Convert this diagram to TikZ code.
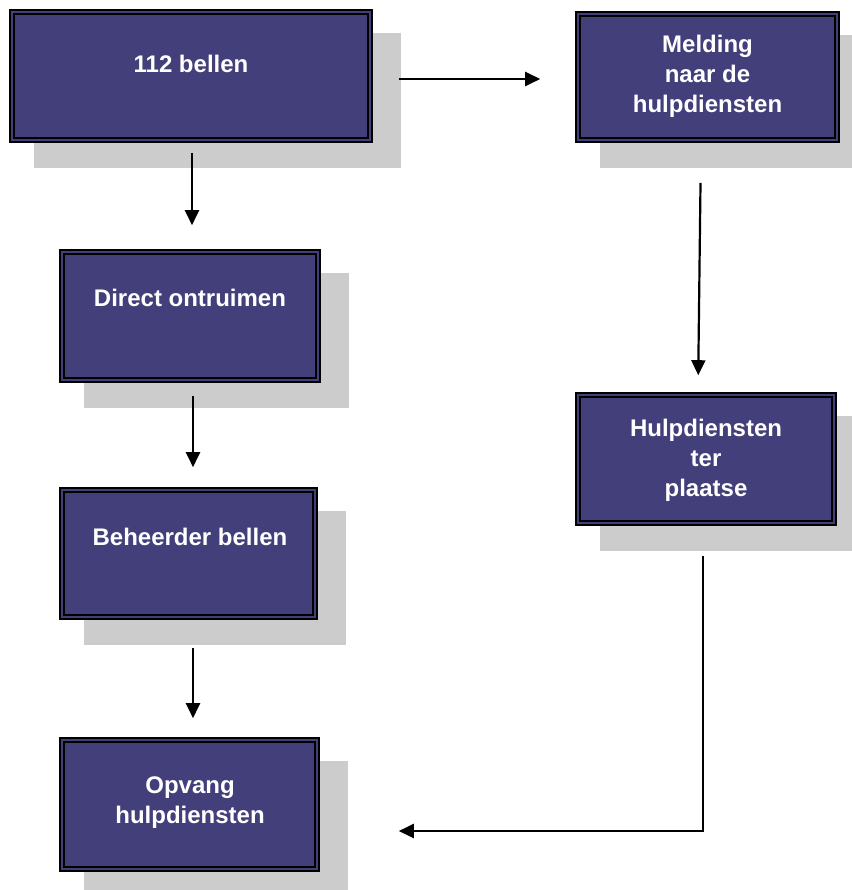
\documentclass[tikz,border=0pt]{standalone}
\usepackage{fontspec}
\setmainfont{Liberation Sans}
\usetikzlibrary{arrows.meta}
\definecolor{boxblue}{RGB}{67,63,122}
\definecolor{shadowgray}{RGB}{204,204,204}
\tikzset{
  flowbox/.style={draw=black, line width=1.6pt, double=boxblue, double distance=2.2pt,
    fill=boxblue, inner sep=0pt},
  boxshadow/.style={fill=shadowgray, draw=none},
  boxtext/.style={text=white, font=\bfseries\fontsize{24}{30}\selectfont, align=center, inner sep=0pt},
  arr/.style={draw=black, line width=2.2pt, -{Triangle[length=15pt,width=14pt]}},
}
\newcommand{\shadowof}[1]{%
  \fill[boxshadow] ([shift={(25pt,-25pt)}]#1.south west) rectangle ([shift={(28pt,-24pt)}]#1.north east);}
\begin{document}
\begin{tikzpicture}[x=1pt,y=-1pt]
\useasboundingbox (0,0) rectangle (851,890);
\coordinate (c1) at (191,76);
\coordinate (c2) at (707.5,77);
\coordinate (c3) at (190,316);
\coordinate (c4) at (188.5,553.5);
\coordinate (c5) at (189.5,804.5);
\coordinate (c6) at (706,459);
\path node[inner sep=0pt, minimum width=364pt, minimum height=134pt] (s1) at (c1) {}
      node[inner sep=0pt, minimum width=265pt, minimum height=132pt] (s2) at (c2) {}
      node[inner sep=0pt, minimum width=262pt, minimum height=134pt] (s3) at (c3) {}
      node[inner sep=0pt, minimum width=259pt, minimum height=133pt] (s4) at (c4) {}
      node[inner sep=0pt, minimum width=261pt, minimum height=135pt] (s5) at (c5) {}
      node[inner sep=0pt, minimum width=262pt, minimum height=134pt] (s6) at (c6) {};
\shadowof{s1}\shadowof{s2}\shadowof{s3}\shadowof{s4}\shadowof{s5}\shadowof{s6}
\node[flowbox, minimum width=358pt, minimum height=128pt] (b1) at (c1) {};
\node[flowbox, minimum width=259pt, minimum height=126pt] (b2) at (c2) {};
\node[flowbox, minimum width=256pt, minimum height=128pt] (b3) at (c3) {};
\node[flowbox, minimum width=253pt, minimum height=127pt] (b4) at (c4) {};
\node[flowbox, minimum width=255pt, minimum height=129pt] (b5) at (c5) {};
\node[flowbox, minimum width=256pt, minimum height=128pt] (b6) at (c6) {};
\node[boxtext] (t1) at (191,64) {112 bellen};
\node[boxtext] (t2) at (707.5,76) {Melding\\naar de\\hulpdiensten};
\node[boxtext] (t3) at (190,298) {Direct ontruimen};
\node[boxtext] (t4) at (190,537) {Beheerder bellen};
\node[boxtext] (t5) at (190,803) {Opvang\\hulpdiensten};
\node[boxtext] (t6) at (706,460) {Hulpdiensten\\ter\\plaatse};
\draw[arr, shorten <=12pt, shorten >=26pt] ([xshift=1pt]b1.south) -- ([xshift=1pt]b1.south |- b3.north);
\draw[arr, shorten <=15pt, shorten >=22pt] ([xshift=3pt]b3.south) -- ([xshift=3pt]b3.south |- b4.north);
\draw[arr, shorten <=30pt, shorten >=21pt] ([xshift=4.5pt]b4.south) -- ([xshift=4.5pt]b4.south |- b5.north);
\draw[arr, shorten <=28pt, shorten >=37pt] ([yshift=-3pt]b1.east) -- ([yshift=-3pt]b1.east -| b2.west);
\draw[arr, shorten <=42pt, shorten >=19pt] ([xshift=-6.5pt]b2.south) -- ([xshift=-8pt]b6.north);
\draw[arr, shorten <=32pt, shorten >=81pt] ([xshift=-3pt]b6.south) |- ([yshift=-26.5pt]b5.east);
\end{tikzpicture}
\end{document}
